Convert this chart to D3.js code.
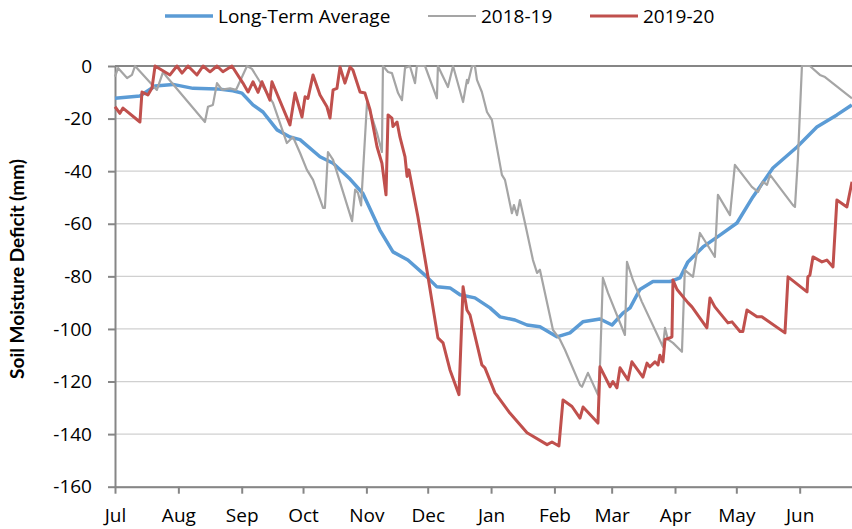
<!DOCTYPE html>
<meta charset="utf-8">
<script src="https://d3js.org/d3.v7.min.js"></script>
<style>
  body { margin: 0; background: #fff; }
  text { font-family: "Open Sans", sans-serif; fill: #000; }
</style>
<body>
<div id="chart"></div>
<script>
// day = days since 1 July, value = soil moisture deficit (mm)
var longTermAvg = [
  [0,-12.3],[12.2,-11.4],[19.6,-7.6],[28.4,-7.0],[38.2,-8.5],[49.9,-8.7],[57.7,-9.4],
  [62.1,-10.3],[67.5,-14.8],[72.4,-17.5],[79.3,-24.3],[85.6,-27],[90.5,-28],[100.3,-34.5],
  [106.7,-37],[115,-43],[121.3,-48.5],[129.6,-62.4],[136,-70.7],[143.3,-73.8],[152.6,-80.2],
  [157.5,-84],[163.9,-84.4],[168.8,-87],[176.1,-88.2],[183.5,-92],[188.4,-95.4],[195.7,-96.6],
  [201.6,-98.5],[207.9,-99.2],[216.2,-103],[222.6,-101.5],[228.9,-97.3],[237.3,-96.2],
  [243.2,-98.5],[248.5,-94],[252,-92],[256.8,-85],[263.2,-82],[271.5,-82],[276.4,-80.6],
  [280.3,-74.5],[287.7,-68.8],[296,-64.3],[304.3,-59.7],[312.1,-49.8],[321.9,-38.8],
  [333.7,-30.8],[343.4,-23.2],[353.2,-18.6],[360.5,-14.8]
];

var season1819 = [
  [0,-4],[1.5,-0.8],[5.9,-4.6],[8.3,-3.4],[9.8,0],[20.5,-9.1],[23.5,-2.3],[25.4,-4.2],
  [44,-21.3],[45.5,-15.5],[47.9,-14.8],[49.9,-6.5],[52.3,-9],[56.3,-8.5],[59.2,-9.1],
  [64.6,0],[67,-1.1],[70.9,-6],[77.3,-14],[84.1,-29.3],[87.1,-27],[90.5,-33],[93.9,-39.5],
  [96.9,-43.3],[101.8,-54],[102.7,-54],[104.2,-32.7],[106.7,-35.7],[116,-59],[117.5,-47],
  [118.9,-48.3],[120.4,-53],[123.3,-14],[125.7,-19.4],[128.2,-25.5],[130.6,-32.7],[131.1,0],
  [133.6,-2.3],[135.5,-2.7],[138.5,-10.3],[140.4,-13],[141.9,-0.8],[144.3,0],[146.8,-6.5],
  [147.7,0],[151.7,0],[157.5,-12.3],[158,0],[162.9,-8],[165.4,0],[170.3,-13.7],[172.2,-5.3],
  [172.7,-6.5],[174.7,0],[176.1,0],[177.1,-5.3],[179.5,-9.9],[182,-17.5],[184.4,-20.5],
  [189.3,-41.4],[190.8,-43.3],[191.8,-47],[194.2,-56],[195.2,-52.9],[196.7,-56.7],[198.1,-51],
  [200.6,-59.7],[204.5,-73.8],[206.5,-78.7],[207.9,-77.5],[211.4,-90],[214.3,-100.4],
  [217.7,-104],[220.2,-108],[227.5,-121.3],[228.5,-122],[231.4,-116.7],[236.3,-125],
  [237.3,-114],[238.7,-80.6],[241.2,-86.3],[249.5,-102.3],[250.5,-74.5],[253.4,-81.4],
  [257.8,-89.7],[268.1,-106.8],[269.1,-99.6],[270.5,-104],[273,-105.3],[277.4,-108.7],
  [278.8,-77.6],[282.8,-80.2],[286.2,-63.5],[293.5,-72.6],[295,-49],[300.9,-56.7],
  [303.3,-37.6],[311.6,-46],[314.6,-47.9],[317,-44],[319,-45.2],[320.5,-41.4],[331.7,-52.9],
  [332.7,-53.6],[334.1,-35.7],[336.1,0],[340,0],[344.9,-3.4],[347.4,-4.2],[360.6,-12.3]
];

var season1920 = [
  [0,-15.5],[2.4,-18],[3.9,-16],[12.2,-21.3],[13.2,-9.9],[16.1,-11],[18.1,-8.4],[19.6,0],
  [26.9,-3.4],[30.3,0],[32.8,-2.7],[35.7,0],[40.1,-3.4],[43.1,0],[46.5,-2.2],[49.9,0],
  [52.8,-2.2],[57.2,0],[62.6,-6.5],[65.1,-9.9],[67.5,-6],[70,-10],[71.9,-6],[75.8,-13],
  [76.8,-6],[85.6,-22.4],[88.1,-10.3],[91.5,-19.4],[93,-11.7],[94.4,-12.3],[96.9,-3.4],
  [100.3,-11],[103.7,-15.5],[105.2,-19.8],[106.7,-9.1],[108.6,-8.5],[110.1,-0.4],[112.5,-6.5],
  [115,-0.4],[116.4,-1.5],[119.9,-9.9],[122.3,-10.3],[124.8,-16.7],[128.2,-30.7],[130.6,-37],
  [132.6,-49],[133.6,-18.6],[135.5,-19.8],[136,-23],[138,-21.3],[139.4,-27],[141.9,-34.6],
  [142.9,-42],[143.8,-39.5],[148.2,-57.3],[152.6,-77.6],[158,-103.4],[160.5,-105.3],
  [163.9,-115.6],[168.3,-125],[170.3,-84],[172.2,-92.8],[173.7,-94.7],[179.5,-113.7],
  [181,-114.8],[185.9,-124.3],[187.4,-125.8],[193.2,-132],[201.6,-139.5],[211.4,-144],
  [213.8,-143],[217.2,-144.5],[219.2,-127],[223.6,-129.5],[227.5,-133.9],[229,-129.7],
  [236.3,-135.8],[237.3,-114.4],[242.2,-122],[243.6,-120],[245.6,-122.4],[247.1,-114.8],
  [251,-119.4],[252.9,-112.5],[258.3,-118.3],[260.3,-113],[261.7,-114.4],[264.2,-112.5],
  [265.7,-113.7],[266.6,-110],[268.1,-112.5],[269.1,-104],[271.5,-103.4],[272.5,-103],
  [273,-81.4],[275,-85],[280.3,-90],[282.3,-91.6],[289.6,-99.6],[291.1,-88.2],[293.5,-91.6],
  [299.9,-97.7],[301.9,-97.3],[305.8,-101],[307.2,-101],[309.2,-92.8],[314.1,-95.4],
  [316.5,-95.4],[327.8,-101.5],[329.3,-80.2],[338.6,-85.9],[339,-80.2],[340,-79.5],
  [341.5,-72.6],[345.9,-74.5],[348.3,-73.8],[351.3,-76.4],[353.2,-51],[358.1,-53.6],[360.6,-44]
];

var seriesNames = ["Long-Term Average", "2018-19", "2019-20"];
var seriesColors = ["#5b9bd5", "#a5a5a5", "#c0504d"];
var yTicks = [0, -20, -40, -60, -80, -100, -120, -140, -160];

var width = 852, height = 529;
var margin = {top: 66, left: 115, bottom: 42};

var start = Date.UTC(2018, 6, 1), end = Date.UTC(2019, 6, 1);
var day = function(d) { return new Date(start + d * 864e5); };

var svg = d3.select("#chart").append("svg")
    .attr("width", width)
    .attr("height", height);

var x = d3.scaleUtc()
    .domain([start, end])
    .range([margin.left, 861]);

var y = d3.scaleLinear()
    .domain([-160, 0])
    .range([height - margin.bottom - 0.3, margin.top]);

// gridlines
svg.append("g")
  .selectAll("line")
  .data(yTicks)
  .enter().append("line")
    .attr("x1", margin.left)
    .attr("x2", width)
    .attr("y1", function(d) { return y(d); })
    .attr("y2", function(d) { return y(d); })
    .attr("stroke", function(d) { return d == 0 ? "#868686" : "#d0d0d0"; })
    .attr("stroke-width", function(d) { return d == 0 ? 2 : 1.3; });

// Y axis (plain hyphen for negatives, like the original)
var yAxis = svg.append("g")
    .attr("transform", "translate(" + margin.left + ",0)")
    .call(d3.axisLeft(y).tickValues(yTicks).tickFormat(function(d) { return String(d); })
      .tickSize(7).tickPadding(16).tickSizeOuter(0));
yAxis.selectAll("text").style("font-size", "19px");

// X axis, one tick per month Jul..Jun
var xAxis = svg.append("g")
    .attr("transform", "translate(0," + y(-160) + ")")
    .call(d3.axisBottom(x).tickValues(d3.utcMonth.range(start, end)).tickFormat(d3.utcFormat("%b"))
      .tickSize(7).tickPadding(15).tickSizeOuter(0));
xAxis.selectAll("text").style("font-size", "19px");

svg.selectAll(".domain, .tick line")
    .attr("stroke", "#868686")
    .attr("stroke-width", 2);

// Y axis title
svg.append("text")
    .attr("transform", "translate(24,269) rotate(-90)")
    .attr("text-anchor", "middle")
    .style("font-family", "Lato, sans-serif")
    .style("font-size", "19px")
    .style("font-weight", "bold")
    .text("Soil Moisture Deficit (mm)");

// Lines
var line = d3.line()
    .x(function(d) { return x(day(d[0])); })
    .y(function(d) { return y(d[1]); });

var allSeries = [longTermAvg, season1819, season1920];
var widths = [3.5, 2.2, 3];
allSeries.forEach(function(s, i) {
  svg.append("path")
    .datum(s)
    .attr("fill", "none")
    .attr("stroke", seriesColors[i])
    .attr("stroke-width", widths[i])
    .attr("stroke-linejoin", "round")
    .attr("d", line);
});

// Legend
var legendX = [165, 428, 590];
var legend = svg.append("g").selectAll("g")
  .data(seriesNames)
  .enter().append("g")
    .attr("transform", function(d, i) { return "translate(" + legendX[i] + ",16)"; });
legend.append("line")
    .attr("x1", 0).attr("x2", 48)
    .attr("stroke", function(d, i) { return seriesColors[i]; })
    .attr("stroke-width", function(d, i) { return widths[i]; });
legend.append("text")
    .attr("x", 53)
    .attr("dy", "0.35em")
    .style("font-size", "19px")
    .text(function(d) { return d; });
</script>
</body>
